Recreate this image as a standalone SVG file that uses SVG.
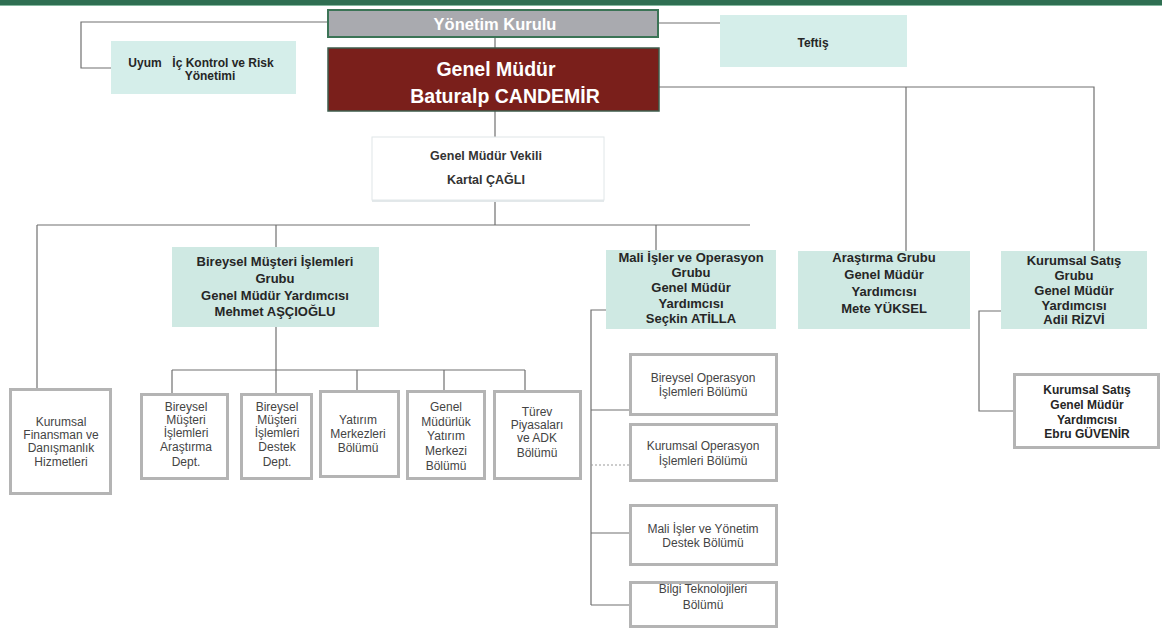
<svg xmlns="http://www.w3.org/2000/svg" width="1162" height="631" viewBox="0 0 1162 631">
<defs>
<style>
.conn{stroke:#707070;stroke-width:1.2;fill:none}
.dash{stroke:#9a9a9a;stroke-width:1.2;fill:none;stroke-dasharray:2,2}
.grp{fill:#cfe9e3}
.lite{fill:#d5eeea}
.dept{fill:#ffffff;stroke:#b4b4b4;stroke-width:3}
text{font-family:"Liberation Sans",Arial,Helvetica,sans-serif;text-anchor:middle}
.b{font-weight:bold;fill:#262626;font-size:13px}
.bs{font-weight:bold;fill:#262626;font-size:12px}
.r{fill:#444444;font-size:12px}
.w{fill:#ffffff}
</style>
</defs>
<rect x="0" y="0" width="1162" height="5" fill="#2f6f52"/>
<line x1="0" y1="5.5" x2="1162" y2="5.5" stroke="#86b9a0" stroke-width="1"/>
<g id="connectors">
<path class="conn" d="M328 22 H81 V68 H111"/>
<path class="conn" d="M659 23 H720"/>
<path class="conn" d="M495 37 V48"/>
<path class="conn" d="M495 111 V137"/>
<path class="conn" d="M659 87 H1094 V251"/>
<path class="conn" d="M906 87 V251"/>
<path class="conn" d="M495 201 V225"/>
<path class="conn" d="M37 225 H750"/>
<path class="conn" d="M37 225 V388"/>
<path class="conn" d="M276 225 V247"/>
<path class="conn" d="M656 225 V250"/>
<path class="conn" d="M276 327 V393"/>
<path class="conn" d="M172 370 H525"/>
<path class="conn" d="M172 370 V393"/>
<path class="conn" d="M357 370 V390"/>
<path class="conn" d="M444 370 V390"/>
<path class="conn" d="M525 370 V390"/>
<path class="conn" d="M614 310 H591 V605"/>
<path class="conn" d="M591 410 H629"/>
<path class="dash" d="M591 465 H629"/>
<path class="conn" d="M591 533 H629"/>
<path class="conn" d="M591 605 H629"/>
<path class="conn" d="M1009 311 H979 V411 H1013"/>
</g>
<g id="yonetim-kurulu">
<rect x="328" y="10" width="330" height="27" fill="#a9aaaf" stroke="#3b7456" stroke-width="2"/>
<text class="w" x="495" y="30" font-size="16.5" font-weight="bold">Yönetim Kurulu</text>
</g>
<g id="uyum">
<rect class="lite" x="111" y="41" width="185" height="53"/>
<text class="bs" x="145" y="67" font-size="11">Uyum</text>
<text class="bs" x="223" y="67" font-size="11">İç Kontrol ve Risk</text>
<text class="bs" x="210" y="80" font-size="11">Yönetimi</text>
</g>
<g id="teftis">
<rect class="lite" x="720" y="15" width="187" height="52"/>
<text class="bs" x="813" y="47" font-size="11">Teftiş</text>
</g>
<g id="genel-mudur">
<rect x="328" y="48" width="331" height="63" fill="#7a1f1b" stroke="#3e5c4c" stroke-width="1.5"/>
<text class="w" x="496" y="76" font-size="19.5" font-weight="bold">Genel Müdür</text>
<text class="w" x="505" y="103" font-size="19.5" font-weight="bold">Baturalp CANDEMİR</text>
</g>
<g id="gm-vekili">
<rect x="372" y="139" width="232" height="63" fill="#e3e8ea"/>
<rect x="372" y="137" width="232" height="63" fill="#ffffff" stroke="#e0e6e8" stroke-width="1"/>
<text x="486" y="160" font-size="12.5" font-weight="bold" fill="#333333">Genel Müdür Vekili</text>
<text x="486" y="184" font-size="12.5" font-weight="bold" fill="#333333">Kartal ÇAĞLI</text>
</g>
<g id="bireysel-grup">
<rect class="grp" x="172" y="247" width="207" height="80"/>
<text class="b" x="275" y="266">Bireysel Müşteri İşlemleri</text>
<text class="b" x="275" y="283">Grubu</text>
<text class="b" x="275" y="300">Genel Müdür Yardımcısı</text>
<text class="b" x="275" y="316">Mehmet AŞÇIOĞLU</text>
</g>
<g id="mali-grup">
<rect class="grp" x="606" y="250" width="170" height="79"/>
<text class="b" x="691" y="261.5">Mali İşler ve Operasyon</text>
<text class="b" x="691" y="276.5">Grubu</text>
<text class="b" x="691" y="291.5">Genel Müdür</text>
<text class="b" x="691" y="307.5">Yardımcısı</text>
<text class="b" x="691" y="322.5">Seçkin ATİLLA</text>
</g>
<g id="arastirma-grup">
<rect class="grp" x="798" y="251" width="172" height="78"/>
<text class="b" x="884" y="262">Araştırma Grubu</text>
<text class="b" x="884" y="279">Genel Müdür</text>
<text class="b" x="884" y="296">Yardımcısı</text>
<text class="b" x="884" y="313">Mete YÜKSEL</text>
</g>
<g id="kurumsal-satis-grup">
<rect class="grp" x="1001" y="251" width="146" height="78"/>
<text class="b" x="1074" y="264.5">Kurumsal Satış</text>
<text class="b" x="1074" y="279.5">Grubu</text>
<text class="b" x="1074" y="294.5">Genel Müdür</text>
<text class="b" x="1074" y="309.5">Yardımcısı</text>
<text class="b" x="1074" y="323.5">Adil RİZVİ</text>
</g>
<g id="kurumsal-finansman">
<rect class="dept" x="10.5" y="389.5" width="100" height="104"/>
<text class="r" x="61" y="425.5">Kurumsal</text>
<text class="r" x="61" y="438.5">Finansman ve</text>
<text class="r" x="61" y="451.5">Danışmanlık</text>
<text class="r" x="61" y="465.5">Hizmetleri</text>
</g>
<g id="bmi-arastirma">
<rect class="dept" x="141.5" y="394.5" width="86" height="84"/>
<text class="r" x="186" y="411">Bireysel</text>
<text class="r" x="186" y="424">Müşteri</text>
<text class="r" x="186" y="437">İşlemleri</text>
<text class="r" x="186" y="451">Araştırma</text>
<text class="r" x="186" y="466">Dept.</text>
</g>
<g id="bmi-destek">
<rect class="dept" x="241.5" y="394.5" width="70" height="84"/>
<text class="r" x="277" y="411">Bireysel</text>
<text class="r" x="277" y="424">Müşteri</text>
<text class="r" x="277" y="437">İşlemleri</text>
<text class="r" x="277" y="451">Destek</text>
<text class="r" x="277" y="466">Dept.</text>
</g>
<g id="yatirim-merkezleri">
<rect class="dept" x="320.5" y="391.5" width="78" height="85"/>
<text class="r" x="358" y="424">Yatırım</text>
<text class="r" x="358" y="438">Merkezleri</text>
<text class="r" x="358" y="452">Bölümü</text>
</g>
<g id="gm-yatirim-merkezi">
<rect class="dept" x="407.5" y="391.5" width="77" height="87"/>
<text class="r" x="446" y="411">Genel</text>
<text class="r" x="446" y="426">Müdürlük</text>
<text class="r" x="446" y="440">Yatırım</text>
<text class="r" x="446" y="455">Merkezi</text>
<text class="r" x="446" y="470">Bölümü</text>
</g>
<g id="turev">
<rect class="dept" x="494.5" y="391.5" width="86" height="87"/>
<text class="r" x="537" y="416">Türev</text>
<text class="r" x="537" y="429">Piyasaları</text>
<text class="r" x="537" y="442">ve ADK</text>
<text class="r" x="537" y="457">Bölümü</text>
</g>
<g id="bireysel-operasyon">
<rect class="dept" x="630.5" y="354.5" width="146" height="60"/>
<text class="r" x="703" y="382">Bireysel Operasyon</text>
<text class="r" x="703" y="396">İşlemleri Bölümü</text>
</g>
<g id="kurumsal-operasyon">
<rect class="dept" x="630.5" y="424.5" width="146" height="56"/>
<text class="r" x="703" y="450">Kurumsal Operasyon</text>
<text class="r" x="703" y="465">İşlemleri Bölümü</text>
</g>
<g id="mali-yonetim-destek">
<rect class="dept" x="630.5" y="505.5" width="146" height="59"/>
<text class="r" x="703" y="533">Mali İşler ve Yönetim</text>
<text class="r" x="703" y="547">Destek Bölümü</text>
</g>
<g id="bilgi-teknolojileri">
<rect class="dept" x="630.5" y="582.5" width="146" height="44"/>
<text class="r" x="703" y="593">Bilgi Teknolojileri</text>
<text class="r" x="703" y="609">Bölümü</text>
</g>
<g id="kurumsal-satis-gmy">
<rect class="dept" x="1014.5" y="374.5" width="144" height="73"/>
<text class="bs" x="1087" y="394">Kurumsal Satış</text>
<text class="bs" x="1087" y="409">Genel Müdür</text>
<text class="bs" x="1087" y="424">Yardımcısı</text>
<text class="bs" x="1087" y="438">Ebru GÜVENİR</text>
</g>
</svg>
